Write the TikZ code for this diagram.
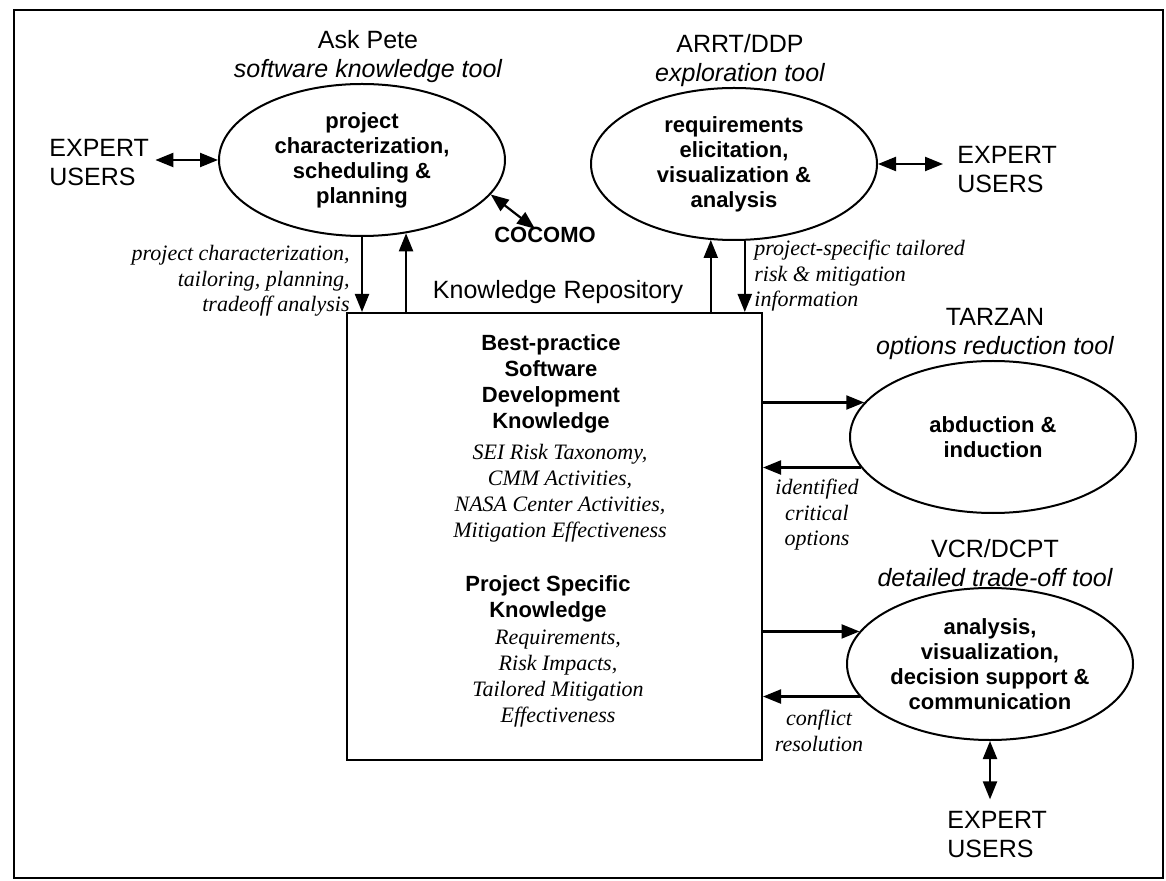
\documentclass[tikz,border=0pt]{standalone}
\usepackage{fontspec}
\setmainfont{Liberation Serif}
\setsansfont{Liberation Sans}
\usetikzlibrary{shapes.geometric,arrows.meta}
\begin{document}
\begin{tikzpicture}[x=0.5pt,y=-0.5pt,
  ttl/.style={font=\sffamily\fontsize{12.5}{14.5}\selectfont, align=center, inner sep=0pt},
  usr/.style={font=\sffamily\fontsize{12.5}{14.5}\selectfont, align=left, inner sep=0pt},
  ell/.style={ellipse, draw, line width=1pt, minimum width=143pt, minimum height=76pt, inner sep=0pt, align=center, font=\sffamily\bfseries\fontsize{11}{12.5}\selectfont},
  bld/.style={font=\sffamily\bfseries\fontsize{11}{13}\selectfont, align=center, inner sep=0pt},
  itl/.style={font=\itshape\fontsize{11}{13}\selectfont, align=center, inner sep=0pt},
  lbl/.style={font=\itshape\fontsize{11}{12.75}\selectfont, inner sep=0pt},
  tip/.tip={Triangle[length=9pt,width=7pt]},
  arr/.style={-tip, line width=1.1pt},
  dbl/.style={tip-tip, line width=1.1pt}]
\useasboundingbox (0,0) rectangle (1166,881);
\draw[line width=1pt] (14,10) rectangle (1163,878);

% titles
\node[ttl] (tA) at (368,57) {Ask Pete\\\itshape software knowledge tool};
\node[ttl] (tB) at (740,61) {ARRT/DDP\\\itshape exploration tool};
\node[ttl] (tC) at (995,334) {TARZAN\\\itshape options reduction tool};
\node[ttl] (tD) at (995,563) {VCR/DCPT\\\itshape detailed trade-off tool};

% ellipses
\node[ell] (A) at (362,160) {project\\characterization,\\scheduling \&\\planning};
\node[ell] (B) at (734,164) {requirements\\elicitation,\\visualization \&\\analysis};
\node[ell] (C) at (993,437) {abduction \&\\induction};
\node[ell] (D) at (990,664) {analysis,\\visualization,\\decision support \&\\communication};

% users
\node[usr, anchor=west] (uA) at (49,163) {EXPERT\\USERS};
\node[usr, anchor=west] (uB) at (957,170) {EXPERT\\USERS};
\node[usr, anchor=west] (uD) at (947,835) {EXPERT\\USERS};
\node[bld] (co) at (545,235) {COCOMO};

% knowledge repository box
\node[draw, line width=1pt, minimum width=207.5pt, minimum height=223.5pt, inner sep=0pt] (kb) at (554.5,536.5) {};
\node[ttl] (kbt) at (558,292) {Knowledge Repository};
\node[bld] (k1) at (551,384) {Best-practice\\Software\\Development\\Knowledge};
\node[itl] (k2) at (560,493) {SEI Risk Taxonomy,\\CMM Activities,\\NASA Center Activities,\\Mitigation Effectiveness};
\node[bld] (k3) at (548,599) {Project Specific\\Knowledge};
\node[itl] (k4) at (558,679) {Requirements,\\Risk Impacts,\\Tailored Mitigation\\Effectiveness};

% connector labels
\node[lbl, anchor=east, align=right] (lA) at (350,281) {project characterization,\\tailoring, planning,\\tradeoff analysis};
\node[lbl, anchor=west, align=left] (lB) at (754,276) {project-specific tailored\\risk \& mitigation\\information};
\node[lbl, align=center] (lC) at (817,515) {identified\\critical\\options};
\node[lbl, align=center] (lD) at (819,731) {conflict\\resolution};

% connectors
\draw[dbl, shorten <=3pt] ([yshift=1.5pt]uA.east) -- ([yshift=1.5pt]uA.east -| A.west);
\draw[dbl] (A.-15) -- ([xshift=-5pt,yshift=-1pt]co.north);
\draw[arr] (A.south) -- (A.south |- kb.north);
\draw[arr] (A.-59 |- kb.north) -- (A.-59);
\draw[arr] (B.-107 |- kb.north) -- (B.-107);
\draw[arr] (B.-82) -- (B.-82 |- kb.north);
\draw[dbl, shorten >=7pt] (B.east) -- (B.east -| uB.west);
\draw[arr] (C.165 -| kb.east) -- (C.165);
\draw[arr] (C.193) -- (C.193 -| kb.east);
\draw[arr] (D.166 -| kb.east) -- (D.166);
\draw[arr] (D.194) -- (D.194 -| kb.east);
\draw[dbl, shorten >=6pt] (D.south) -- (D.south |- uD.north);
\end{tikzpicture}
\end{document}
